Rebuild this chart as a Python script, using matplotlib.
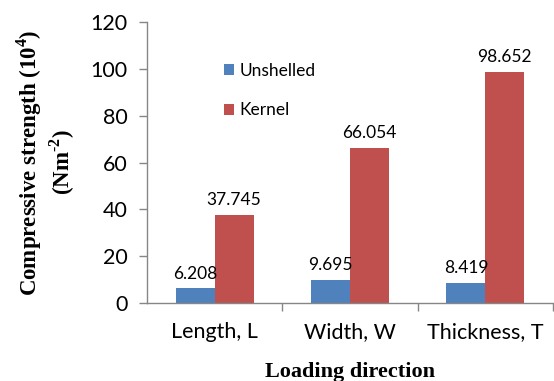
import matplotlib.pyplot as plt
import numpy as np

categories = ["Length, L", "Width, W", "Thickness, T"]
unshelled = [6.208, 9.695, 8.419]
kernel = [37.745, 66.054, 98.652]
yticks = [0, 20, 40, 60, 80, 100, 120]

blue = "#4F81BD"
red = "#C0504D"
axis_grey = "#868686"

# serif bold for the axis titles, superscripts included
plt.rcParams["mathtext.fontset"] = "custom"
plt.rcParams["mathtext.rm"] = "Liberation Serif:bold"
plt.rcParams["mathtext.bf"] = "Liberation Serif:bold"

fig = plt.figure(figsize=(5.54, 3.81), dpi=100)
ax = fig.add_axes([0.2653, 0.2047, 0.733, 0.7375])

x = np.arange(len(categories))
w = 0.288
b1 = ax.bar(x - w / 2, unshelled, w, color=blue, label="Unshelled")
b2 = ax.bar(x + w / 2, kernel, w, color=red, label="Kernel")

for rects, vals in ((b1, unshelled), (b2, kernel)):
    for r, v in zip(rects, vals):
        ax.annotate(f"{v:.3f}", (r.get_x() + r.get_width() / 2, v),
                    xytext=(0, 5), textcoords="offset points",
                    ha="center", va="bottom", fontsize=12.5, family="Lato")

ax.set_xlim(-0.5, 2.5)
ax.set_ylim(0, 120)
ax.set_yticks(yticks)
ax.set_xticks(x)
ax.set_xticklabels(categories)
ax.set_xticks([0.5, 1.5, 2.5], minor=True)
ax.tick_params(axis="x", which="major", length=0, pad=14)
ax.tick_params(axis="x", which="minor", length=6, color=axis_grey, width=1)
ax.tick_params(axis="y", length=6, color=axis_grey, width=1, pad=8)
for lbl in ax.get_xticklabels() + ax.get_yticklabels():
    lbl.set_family("Lato")
    lbl.set_fontsize(15.5)

for s in ("top", "right"):
    ax.spines[s].set_visible(False)
for s in ("left", "bottom"):
    ax.spines[s].set_color(axis_grey)
    ax.spines[s].set_linewidth(1)

ax.set_xlabel("Loading direction", family="Liberation Serif", fontweight="bold",
              fontsize=16, labelpad=14)
ax.set_ylabel("Compressive strength (10$^{4}$)\n(Nm$^{\\text{-}2}$)",
              family="Liberation Serif", fontweight="bold", fontsize=16.5,
              labelpad=10, linespacing=1.15)

ax.legend(loc="upper left", bbox_to_anchor=(0.15, 0.91), frameon=False,
          prop={"family": "Lato", "size": 12.5}, handlelength=0.6, handleheight=0.6,
          labelspacing=1.35, handletextpad=0.3)

fig.savefig("out.png", dpi=100)
